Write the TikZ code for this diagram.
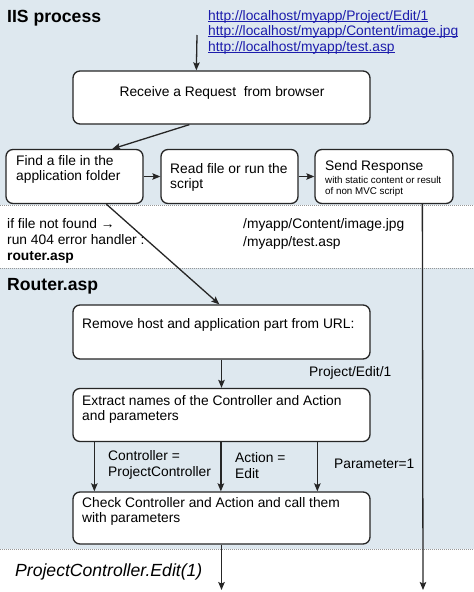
\documentclass[tikz,border=0pt]{standalone}
\usepackage{fontspec}
\setmainfont{Liberation Sans}
\usetikzlibrary{arrows.meta,calc}

\definecolor{bandblue}{RGB}{222,232,239}
\definecolor{urlblue}{RGB}{28,28,172}
\definecolor{dotgray}{RGB}{150,150,150}

\newcommand{\urlline}[1]{\setbox0\hbox{#1}\rlap{\rule[-1.6pt]{\wd0}{0.9pt}}\box0}

\tikzset{
    procbox/.style={draw=black!85, line width=1.3pt, rounded corners=7pt,
        fill=white, inner sep=0pt},
    flow/.style={->, line width=1.3pt, draw=black!85},
    txt/.style={inner sep=0pt, align=left, font=\fontsize{13.8}{15.5}\selectfont},
    smalltxt/.style={inner sep=0pt, align=left, font=\fontsize{9.8}{11}\selectfont},
    headtxt/.style={inner sep=0pt, font=\fontsize{17.6}{20}\selectfont\bfseries},
    bandline/.style={dotgray, line width=0.8pt, dash pattern=on 1pt off 1pt},
}

\begin{document}
\begin{tikzpicture}[x=1pt, y=-1pt, >={Stealth[length=8pt, width=6.5pt, inset=1.5pt]}]

    \useasboundingbox (0,0) rectangle (474,592);

    % --- bands ---
    \fill[bandblue] (0,0) rectangle (474,205);
    \fill[bandblue] (0,268) rectangle (474,549);
    \draw[bandline] (0,205) -- (474,205);
    \draw[bandline] (0,268) -- (474,268);
    \draw[bandline] (0,549) -- (474,549);

    % --- IIS process ---
    \node[headtxt, anchor=base west] (iis) at (7,22) {IIS process};
    \node[txt, anchor=north west, text=urlblue] (urls) at (208,9.8)
        {\urlline{http://localhost/myapp/Project/Edit/1}\\
         \urlline{http://localhost/myapp/Content/image.jpg}\\
         \urlline{http://localhost/myapp/test.asp}};
    \coordinate (urlin) at (197,35);

    \node[procbox, minimum width=297pt, minimum height=53pt] (receive) at (221.5,97.5) {};
    \node[txt, anchor=base] (receivetxt) at (222,96) {Receive a Request \ from browser};

    \node[procbox, minimum width=137pt, minimum height=54pt] (find) at (74.5,176.5) {};
    \node[txt, anchor=north west] (findtxt) at (16,155) {Find a file in the\\application folder};

    \node[procbox, minimum width=137pt, minimum height=54pt] (read) at (229.5,176.5) {};
    \node[txt, anchor=north west] (readtxt) at (170,163) {Read file or run the\\script};

    \node[procbox, minimum width=138pt, minimum height=54pt] (send) at (384,176.5) {};
    \node[txt, anchor=base west] (sendtxt) at (325,170) {Send Response};
    \node[smalltxt, anchor=north west] (sendnote) at (325,176)
        {with static content or result\\of non MVC script};

    % --- between the bands ---
    \node[txt, anchor=north west, font=\fontsize{13.8}{16}\selectfont] (notfound) at (7,218)
        {if file not found \textrightarrow\\run 404 error handler :\\\textbf{router.asp}};
    \node[txt, anchor=north west, font=\fontsize{13.8}{18}\selectfont] (static) at (243,218)
        {/myapp/Content/image.jpg\\/myapp/test.asp};

    % --- Router.asp ---
    \node[headtxt, anchor=base west] (router) at (7,290) {Router.asp};

    \node[procbox, minimum width=297pt, minimum height=54pt] (remove) at (221.5,332) {};
    \node[txt, anchor=base west] (removetxt) at (82,328) {Remove host and application part from URL:};
    \node[txt, anchor=base west] (path) at (309,376) {Project/Edit/1};

    \node[procbox, minimum width=297pt, minimum height=53pt] (extract) at (221.5,415) {};
    \node[txt, anchor=north west] (extracttxt) at (82,395)
        {Extract names of the Controller and Action\\and parameters};

    \node[txt, anchor=north west, font=\fontsize{13.8}{16}\selectfont] (ctrl) at (108,450)
        {Controller =\\ProjectController};
    \node[txt, anchor=north west, font=\fontsize{13.8}{16}\selectfont] (act) at (235,452)
        {Action =\\Edit};
    \node[txt, anchor=base west] (param) at (334,468) {Parameter=1};

    \node[procbox, minimum width=297pt, minimum height=52pt] (check) at (221.5,518) {};
    \node[txt, anchor=north west] (checktxt) at (82,497)
        {Check Controller and Action and call them\\with parameters};

    \node[inner sep=0pt, anchor=base west, font=\fontsize{17.6}{20}\selectfont\itshape] (call)
        at (15,576) {ProjectController.Edit(1)};

    \coordinate (sendend) at (423,590);
    \coordinate (checkend) at (221.5,590);

    % --- connectors ---
    \draw[flow] (urlin) -- ($(receive.north west)+(124,0)$);
    \draw[flow] ($(receive.south west)+(117,0)$) -- ($(find.north west)+(107,0)$);
    \draw[flow] (find.east) -- (read.west);
    \draw[flow] (read.east) -- (send.west);
    \draw[flow] ($(send.south west)+(108,0)$) -- (sendend);
    \draw[flow] ($(find.south west)+(101,0)$) -- ($(remove.north west)+(147,0)$);
    \draw[flow] (remove.south) -- (extract.north);
    \foreach \dx in {22,148.5,245}
        \draw[flow] ($(extract.south west)+(\dx,0)$) -- ($(check.north west)+(\dx,0)$);
    \draw[flow] (check.south) -- (checkend);

\end{tikzpicture}
\end{document}
